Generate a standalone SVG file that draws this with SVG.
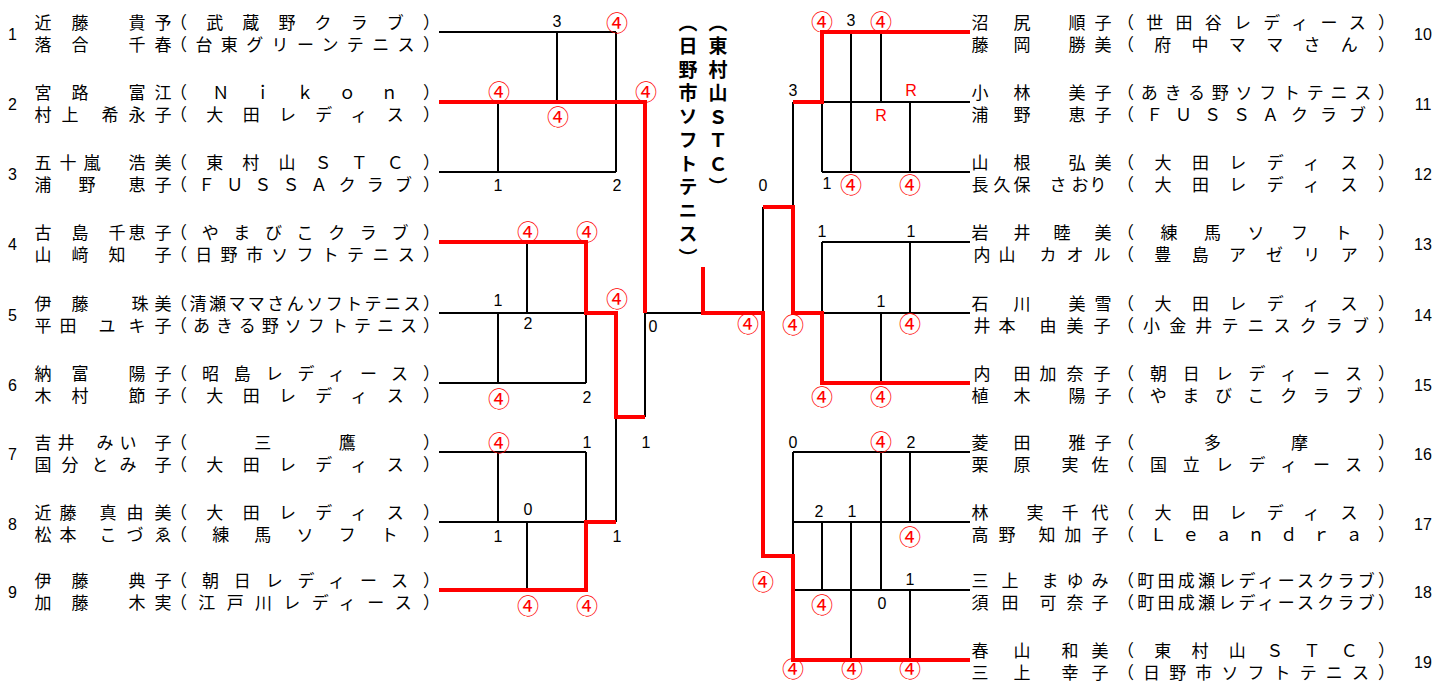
<svg xmlns="http://www.w3.org/2000/svg" width="1432" height="682" viewBox="0 0 1432 682">
<style>
text{dominant-baseline:central}
.nm{font-family:"Noto Sans CJK JP","Noto Sans CJK SC",sans-serif;font-size:17px;text-anchor:middle}
.cl{font-family:"Noto Sans CJK JP","Noto Sans CJK SC",sans-serif;font-size:17px}
.no{font-family:"Liberation Sans",sans-serif;font-size:16px;text-anchor:middle}
.s{font-family:"Liberation Sans",sans-serif;font-size:16px;text-anchor:middle}
.w{font-family:"Noto Sans CJK JP",sans-serif;font-size:22px;text-anchor:middle;fill:#f00}
.rr{fill:#f00}
.v{font-family:"Noto Sans CJK JP",sans-serif;font-size:19px;font-weight:bold;writing-mode:vertical-rl;letter-spacing:4.5px}
.k{stroke:#000;stroke-width:2;fill:none}
.rd{stroke:#f00;stroke-width:4;fill:none;stroke-linejoin:miter}
</style>
<rect width="1432" height="682" fill="#fff"/>

<g id="connectors">
<path class="k" d="M439,32H616M557,32V102M616,32V172M439,172H616M498,102V172
M527,242V313M439,313H586M498,313V383M439,383H586M586,313V383
M645,313V417M616,417V522M439,452H586M498,452V522M586,452V522M439,522H586M527,522V590
M645,313H703M763,207V313
M793,102V207M851,32V172M881,32V102M822,102H970M910,102V172M822,102V172M822,172H970
M822,242H970M822,242V313M910,242V313M822,313H970M881,313V383
M793,452H970M793,452V556M881,452V590M910,452V522M793,522H970M822,522V590M851,522V660M793,590H970M910,590V660"/>
<path class="rd" d="M439,102H645V313"/>
<path class="rd" d="M439,242H586V313H616V417H645"/>
<path class="rd" d="M439,590H586V522H616"/>
<path class="rd" d="M703,267V313H763V556H793V660H970"/>
<path class="rd" d="M763,207H793V313H822V383H970"/>
<path class="rd" d="M793,102H822V32H970"/>
</g>

<g id="scores">
<text class="s" x="557" y="21">3</text><text class="w" x="617" y="21">④</text>
<text class="w" x="499" y="90">④</text><text class="w" x="558" y="114.5">④</text><text class="w" x="646" y="90">④</text>
<text class="s" x="498" y="185">1</text><text class="s" x="617" y="185">2</text>
<text class="w" x="528" y="230">④</text><text class="w" x="587" y="230">④</text>
<text class="s" x="498" y="300">1</text><text class="s" x="528" y="323">2</text><text class="w" x="617" y="297">④</text>
<text class="s" x="653" y="326">0</text>
<text class="w" x="499" y="396.5">④</text><text class="s" x="587" y="397">2</text>
<text class="w" x="499" y="441">④</text><text class="s" x="587" y="442">1</text><text class="s" x="646" y="442">1</text>
<text class="s" x="528" y="509">0</text><text class="s" x="498" y="536">1</text><text class="s" x="617" y="536">1</text>
<text class="w" x="528" y="603.5">④</text><text class="w" x="587" y="603.5">④</text>
<text class="w" x="748" y="322">④</text>
<text class="w" x="822" y="20">④</text><text class="s" x="851" y="20">3</text><text class="w" x="881" y="20">④</text>
<text class="s" x="793" y="90">3</text><text class="s rr" x="911" y="90">R</text><text class="s rr" x="881" y="115">R</text>
<text class="s" x="827" y="183">1</text><text class="w" x="851" y="182.5">④</text><text class="w" x="910" y="182.5">④</text>
<text class="s" x="763" y="185">0</text>
<text class="s" x="822" y="231.5">1</text><text class="s" x="911" y="231.5">1</text>
<text class="s" x="881" y="301">1</text><text class="w" x="910" y="322">④</text><text class="w" x="793" y="323">④</text>
<text class="w" x="822" y="395">④</text><text class="w" x="881" y="395">④</text>
<text class="s" x="793" y="442">0</text><text class="w" x="881" y="440">④</text><text class="s" x="911" y="442">2</text>
<text class="s" x="819" y="511">2</text><text class="s" x="852" y="511">1</text><text class="w" x="910" y="535">④</text>
<text class="w" x="763" y="580">④</text><text class="s" x="910" y="579">1</text>
<text class="w" x="822" y="603">④</text><text class="s" x="882" y="603">0</text>
<text class="w" x="793" y="667">④</text><text class="w" x="852" y="667">④</text><text class="w" x="910" y="667">④</text>
</g>

<g id="finalists">
<text class="v" x="688" y="13">（日野市ソフトテニス）</text>
<text class="v" x="718" y="13">（東村山ＳＴＣ）</text>
</g>

<g id="team1"><text class="no" x="12.5" y="34.5">1</text>
<text class="nm" x="43 80 137 163" y="21">近藤貴予</text><text class="cl" x="170" y="21" textLength="270" lengthAdjust="spacing">（武蔵野クラブ）</text>
<text class="nm" x="43 80 137 163" y="43.5">落合千春</text><text class="cl" x="170" y="43.5" textLength="270" lengthAdjust="spacing">（台東グリーンテニス）</text></g>
<g id="team2"><text class="no" x="12.5" y="104.5">2</text>
<text class="nm" x="43 80 137 163" y="91">宮路富江</text><text class="cl" x="170" y="91" textLength="270" lengthAdjust="spacing">（Ｎｉｋｏｎ）</text>
<text class="nm" x="43 70 110 137 163" y="113.5">村上希永子</text><text class="cl" x="170" y="113.5" textLength="270" lengthAdjust="spacing">（大田レディス）</text></g>
<g id="team3"><text class="no" x="12.5" y="174.5">3</text>
<text class="nm" x="43 68 92 137 163" y="161">五十嵐浩美</text><text class="cl" x="170" y="161" textLength="270" lengthAdjust="spacing">（東村山ＳＴＣ）</text>
<text class="nm" x="43 87 137 163" y="183.5">浦野恵子</text><text class="cl" x="170" y="183.5" textLength="270" lengthAdjust="spacing">（ＦＵＳＳＡクラブ）</text></g>
<g id="team4"><text class="no" x="12.5" y="244.5">4</text>
<text class="nm" x="43 80 117 137 163" y="231">古島千恵子</text><text class="cl" x="170" y="231" textLength="270" lengthAdjust="spacing">（やまびこクラブ）</text>
<text class="nm" x="43 80 117 163" y="253.5">山﨑知子</text><text class="cl" x="170" y="253.5" textLength="270" lengthAdjust="spacing">（日野市ソフトテニス）</text></g>
<g id="team5"><text class="no" x="12.5" y="315.5">5</text>
<text class="nm" x="43 80 140 163" y="302">伊藤珠美</text><text class="cl" x="170" y="302" textLength="270" lengthAdjust="spacing">（清瀬ママさんソフトテニス）</text>
<text class="nm" x="43 68 107 137 163" y="324.5">平田ユキ子</text><text class="cl" x="170" y="324.5" textLength="270" lengthAdjust="spacing">（あきる野ソフトテニス）</text></g>
<g id="team6"><text class="no" x="12.5" y="385.5">6</text>
<text class="nm" x="43 80 137 163" y="372">納富陽子</text><text class="cl" x="170" y="372" textLength="270" lengthAdjust="spacing">（昭島レディース）</text>
<text class="nm" x="43 80 137 163" y="394.5">木村節子</text><text class="cl" x="170" y="394.5" textLength="270" lengthAdjust="spacing">（大田レディス）</text></g>
<g id="team7"><text class="no" x="12.5" y="454.5">7</text>
<text class="nm" x="43 66 105 128 163" y="441">吉井みい子</text><text class="cl" x="170" y="441" textLength="270" lengthAdjust="spacing">（三鷹）</text>
<text class="nm" x="43 70 100 128 163" y="463.5">国分とみ子</text><text class="cl" x="170" y="463.5" textLength="270" lengthAdjust="spacing">（大田レディス）</text></g>
<g id="team8"><text class="no" x="12.5" y="524.5">8</text>
<text class="nm" x="43 68 108 135 163" y="511">近藤真由美</text><text class="cl" x="170" y="511" textLength="270" lengthAdjust="spacing">（大田レディス）</text>
<text class="nm" x="43 68 108 135 163" y="533.5">松本こづゑ</text><text class="cl" x="170" y="533.5" textLength="270" lengthAdjust="spacing">（練馬ソフト）</text></g>
<g id="team9"><text class="no" x="12.5" y="592.5">9</text>
<text class="nm" x="43 80 137 163" y="579">伊藤典子</text><text class="cl" x="170" y="579" textLength="270" lengthAdjust="spacing">（朝日レディース）</text>
<text class="nm" x="43 80 137 163" y="601.5">加藤木実</text><text class="cl" x="170" y="601.5" textLength="270" lengthAdjust="spacing">（江戸川レディース）</text></g>

<g id="team10"><text class="no" x="1423" y="34.5">10</text>
<text class="nm" x="980 1022 1077 1103" y="21">沼尻順子</text><text class="cl" x="1117" y="21" textLength="278" lengthAdjust="spacing">（世田谷レディース）</text>
<text class="nm" x="980 1022 1077 1103" y="43.5">藤岡勝美</text><text class="cl" x="1117" y="43.5" textLength="278" lengthAdjust="spacing">（府中ママさん）</text></g>
<g id="team11"><text class="no" x="1423" y="104.5">11</text>
<text class="nm" x="980 1022 1077 1103" y="91">小林美子</text><text class="cl" x="1117" y="91" textLength="278" lengthAdjust="spacing">（あきる野ソフトテニス）</text>
<text class="nm" x="980 1022 1077 1103" y="113.5">浦野恵子</text><text class="cl" x="1117" y="113.5" textLength="278" lengthAdjust="spacing">（ＦＵＳＳＡクラブ）</text></g>
<g id="team12"><text class="no" x="1423" y="174.5">12</text>
<text class="nm" x="980 1022 1077 1103" y="161">山根弘美</text><text class="cl" x="1117" y="161" textLength="278" lengthAdjust="spacing">（大田レディス）</text>
<text class="nm" x="980 1002 1022 1058 1080 1098" y="183.5">長久保さおり</text><text class="cl" x="1117" y="183.5" textLength="278" lengthAdjust="spacing">（大田レディス）</text></g>
<g id="team13"><text class="no" x="1423" y="244.5">13</text>
<text class="nm" x="980 1022 1062 1103" y="231">岩井睦美</text><text class="cl" x="1117" y="231" textLength="278" lengthAdjust="spacing">（練馬ソフト）</text>
<text class="nm" x="982 1007 1048 1075 1102" y="253.5">内山カオル</text><text class="cl" x="1117" y="253.5" textLength="278" lengthAdjust="spacing">（豊島アゼリア）</text></g>
<g id="team14"><text class="no" x="1423" y="315.5">14</text>
<text class="nm" x="980 1022 1077 1103" y="302">石川美雪</text><text class="cl" x="1117" y="302" textLength="278" lengthAdjust="spacing">（大田レディス）</text>
<text class="nm" x="982 1007 1048 1075 1102" y="324.5">井本由美子</text><text class="cl" x="1117" y="324.5" textLength="278" lengthAdjust="spacing">（小金井テニスクラブ）</text></g>
<g id="team15"><text class="no" x="1423" y="385.5">15</text>
<text class="nm" x="982 1022 1048 1075 1102" y="372">内田加奈子</text><text class="cl" x="1117" y="372" textLength="278" lengthAdjust="spacing">（朝日レディース）</text>
<text class="nm" x="980 1022 1077 1103" y="394.5">植木陽子</text><text class="cl" x="1117" y="394.5" textLength="278" lengthAdjust="spacing">（やまびこクラブ）</text></g>
<g id="team16"><text class="no" x="1423" y="454.5">16</text>
<text class="nm" x="980 1022 1077 1103" y="441">菱田雅子</text><text class="cl" x="1117" y="441" textLength="278" lengthAdjust="spacing">（多摩）</text>
<text class="nm" x="980 1022 1070 1100" y="463.5">栗原実佐</text><text class="cl" x="1117" y="463.5" textLength="278" lengthAdjust="spacing">（国立レディース）</text></g>
<g id="team17"><text class="no" x="1423" y="524.5">17</text>
<text class="nm" x="980 1035 1070 1100" y="511">林実千代</text><text class="cl" x="1117" y="511" textLength="278" lengthAdjust="spacing">（大田レディス）</text>
<text class="nm" x="980 1007 1047 1073 1100" y="533.5">高野知加子</text><text class="cl" x="1117" y="533.5" textLength="278" lengthAdjust="spacing">（Ｌｅａｎｄｒａ）</text></g>
<g id="team18"><text class="no" x="1423" y="592.5">18</text>
<text class="nm" x="980 1010 1050 1075 1100" y="579">三上まゆみ</text><text class="cl" x="1117" y="579" textLength="278" lengthAdjust="spacing">（町田成瀬レディースクラブ）</text>
<text class="nm" x="980 1010 1048 1075 1100" y="601.5">須田可奈子</text><text class="cl" x="1117" y="601.5" textLength="278" lengthAdjust="spacing">（町田成瀬レディースクラブ）</text></g>
<g id="team19"><text class="no" x="1423" y="662.5">19</text>
<text class="nm" x="980 1022 1070 1100" y="649">春山和美</text><text class="cl" x="1117" y="649" textLength="278" lengthAdjust="spacing">（東村山ＳＴＣ）</text>
<text class="nm" x="980 1022 1070 1100" y="671.5">三上幸子</text><text class="cl" x="1117" y="671.5" textLength="278" lengthAdjust="spacing">（日野市ソフトテニス）</text></g>
</svg>
